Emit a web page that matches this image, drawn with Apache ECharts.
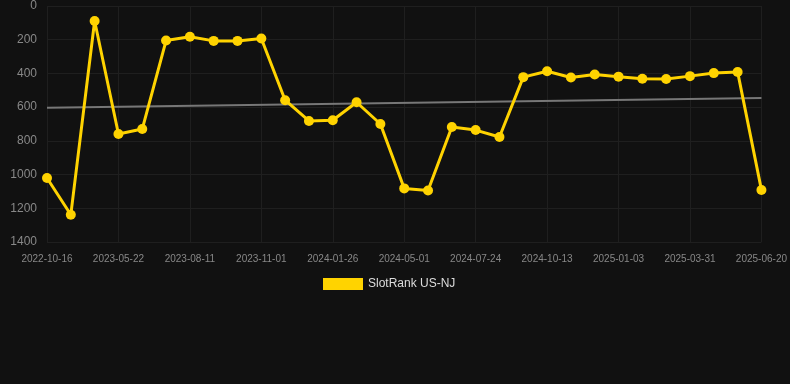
<!DOCTYPE html>
<html>
<head>
<meta charset="utf-8">
<script src="https://cdn.jsdelivr.net/npm/echarts@6/dist/echarts.min.js"></script>
<style>
html,body{margin:0;padding:0;background:#111111;}
#chart{width:790px;height:384px;}
</style>
</head>
<body>
<div id="chart"></div>
<script>
var categories = ["2022-10-16","2023-01-20","2023-03-25","2023-05-22","2023-06-18","2023-07-15","2023-08-11","2023-09-08","2023-10-05","2023-11-01","2023-11-29","2023-12-28","2024-01-26","2024-02-28","2024-03-30","2024-05-01","2024-05-30","2024-06-27","2024-07-24","2024-08-20","2024-09-16","2024-10-13","2024-11-09","2024-12-07","2025-01-03","2025-01-31","2025-03-02","2025-03-31","2025-04-27","2025-05-24","2025-06-20"];
var rankValues = [1020,1238,89,759,730,205,182,207,207,193,559,682,678,571,700,1082,1094,718,736,777,422,387,424,406,419,432,433,416,398,391,1091];
var trendValues = [603,null,null,null,null,null,null,null,null,null,null,null,null,null,null,null,null,null,null,null,null,null,null,null,null,null,null,null,null,null,546];
var yTicks = [0,200,400,600,800,1000,1200,1400];
var seriesName = "SlotRank US-NJ";

var chart = echarts.init(document.getElementById('chart'));
chart.setOption({
  backgroundColor: '#111111',
  animation: false,
  grid: {left: 47, right: 28, top: 6, bottom: 142, containLabel: false},
  legend: {
    data: [seriesName],
    top: 278,
    left: 323,
    padding: 0,
    itemWidth: 40,
    itemHeight: 12,
    itemGap: 10,
    icon: 'rect',
    textStyle: {color: '#dddddd', fontSize: 12, fontFamily: 'Liberation Sans, Arial, sans-serif'}
  },
  xAxis: {
    type: 'category',
    data: categories,
    boundaryGap: false,
    axisLine: {show: false},
    axisTick: {show: false},
    axisLabel: {interval: 2, color: '#888888', fontSize: 10, margin: 12, fontFamily: 'Liberation Sans, Arial, sans-serif'},
    splitLine: {show: true, interval: 2, lineStyle: {color: '#1f1f1f', width: 1}}
  },
  yAxis: {
    type: 'value',
    inverse: true,
    min: yTicks[0],
    max: yTicks[yTicks.length - 1],
    interval: 200,
    axisLine: {show: false},
    axisTick: {show: false},
    axisLabel: {color: '#888888', fontSize: 12, margin: 10, fontFamily: 'Liberation Sans, Arial, sans-serif',
      formatter: function (v) { return String(v); }},
    splitLine: {show: true, lineStyle: {color: '#1f1f1f', width: 1}}
  },
  series: [
    {
      name: 'trend',
      type: 'line',
      data: trendValues,
      connectNulls: true,
      showSymbol: false,
      symbol: 'none',
      silent: true,
      lineStyle: {color: '#777777', width: 2},
      z: 1
    },
    {
      name: seriesName,
      type: 'line',
      data: rankValues,
      symbol: 'circle',
      symbolSize: 10,
      itemStyle: {color: '#FFD300'},
      lineStyle: {color: '#FFD300', width: 3},
      z: 2
    }
  ]
});
</script>
</body>
</html>
